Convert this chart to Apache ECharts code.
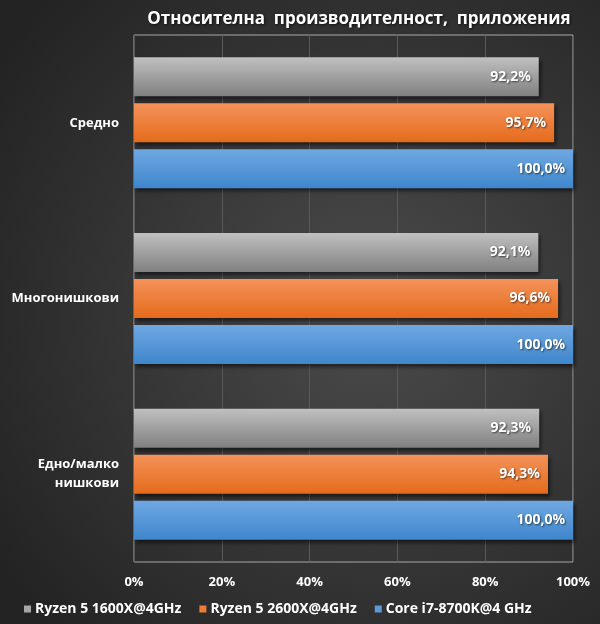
<!DOCTYPE html>
<html>
<head>
<meta charset="utf-8">
<script src="https://cdn.jsdelivr.net/npm/echarts@6/dist/echarts.min.js"></script>
<style>
  html, body { margin: 0; padding: 0; background: #2b2b2b; }
  #chart { width: 600px; height: 624px; }
</style>
</head>
<body>
<div id="chart"></div>
<script>
var categories = ['Средно', 'Многонишкови', 'Едно/малко\nнишкови'];
var seriesNames = ['Ryzen 5 1600X@4GHz', 'Ryzen 5 2600X@4GHz', 'Core i7-8700K@4 GHz'];
var ryzen1600 = [92.2, 92.1, 92.3];
var ryzen2600 = [95.7, 96.6, 94.3];
var corei7 = [100.0, 100.0, 100.0];
var xTicks = [0, 20, 40, 60, 80, 100];

var myChart = echarts.init(document.getElementById('chart'));

function grad(top, bottom) {
    return new echarts.graphic.LinearGradient(0, 0, 0, 1, [
        { offset: 0, color: top },
        { offset: 1, color: bottom }
    ]);
}

var fontFam = '"Open Sans", Roboto, sans-serif';
var colors = [grad('#c0c0c0', '#808080'), grad('#f4925a', '#e56b1c'), grad('#6fa8e2', '#3f86cc')];
var legendColors = ['#a6a6a6', '#ee7a33', '#5b9bd5'];
var values = [ryzen1600, ryzen2600, corei7];

var series = [];
seriesNames.forEach(function (name, i) {
    series.push({
        name: name,
        type: 'bar',
        barWidth: 39,
        barGap: '18%',
        data: values[i],
        itemStyle: {
            color: colors[i],
            shadowColor: 'rgba(0,0,0,0.55)',
            shadowBlur: 4,
            shadowOffsetX: 2,
            shadowOffsetY: 3
        },
        label: {
            show: true,
            position: 'insideRight',
            distance: 8,
            color: '#fff',
            fontFamily: fontFam,
            fontWeight: 'bold',
            fontSize: 14,
            textShadowColor: 'rgba(0,0,0,0.6)',
            textShadowBlur: 2,
            textShadowOffsetX: 1,
            textShadowOffsetY: 1,
            formatter: function (p) {
                return p.value.toFixed(1).replace('.', ',') + '%';
            }
        }
    });
});

var option = {
    backgroundColor: new echarts.graphic.RadialGradient(0.62, 0.5, 0.75, [
        { offset: 0, color: '#4b4b4b' },
        { offset: 1, color: '#232323' }
    ]),
    title: {
        text: 'Относителна  производителност,  приложения',
        left: 354,
        textAlign: 'center',
        top: 6,
        textStyle: {
            color: '#fff',
            fontFamily: fontFam,
            fontWeight: 'bold',
            fontSize: 17,
            textShadowColor: 'rgba(0,0,0,0.7)',
            textShadowBlur: 3,
            textShadowOffsetX: 1,
            textShadowOffsetY: 1
        }
    },
    legend: {
        data: seriesNames.map(function (n, i) {
            return { name: n, itemStyle: { color: legendColors[i] } };
        }),
        bottom: 3,
        left: 19,
        itemWidth: 7,
        itemHeight: 7,
        itemGap: 18,
        icon: 'rect',
        textStyle: {
            color: '#fff',
            fontFamily: fontFam,
            fontWeight: 'bold',
            fontSize: 14,
            padding: [0, 0, 0, -1]
        }
    },
    grid: {
        left: 134,
        right: 27,
        top: 35,
        bottom: 62,
        show: true,
        borderColor: '#a8a8a8',
        borderWidth: 1,
        backgroundColor: 'transparent'
    },
    xAxis: {
        type: 'value',
        min: 0,
        max: 100,
        interval: 20,
        axisLine: { show: false },
        axisTick: { show: false },
        splitLine: { lineStyle: { color: '#5a5a5a', width: 1 } },
        axisLabel: {
            color: '#fff',
            fontFamily: fontFam,
            fontWeight: 'bold',
            fontSize: 13,
            margin: 14,
            customValues: xTicks,
            formatter: '{value}%'
        }
    },
    yAxis: {
        type: 'category',
        inverse: true,
        data: categories,
        axisLine: { show: false },
        axisTick: { show: false },
        splitLine: { show: false },
        axisLabel: {
            color: '#fff',
            fontFamily: fontFam,
            fontWeight: 'bold',
            fontSize: 13,
            margin: 15,
            align: 'right',
            lineHeight: 19
        }
    },
    series: series
};

myChart.setOption(option);
window.addEventListener('resize', function () {
    myChart.resize();
});
</script>
</body>
</html>
